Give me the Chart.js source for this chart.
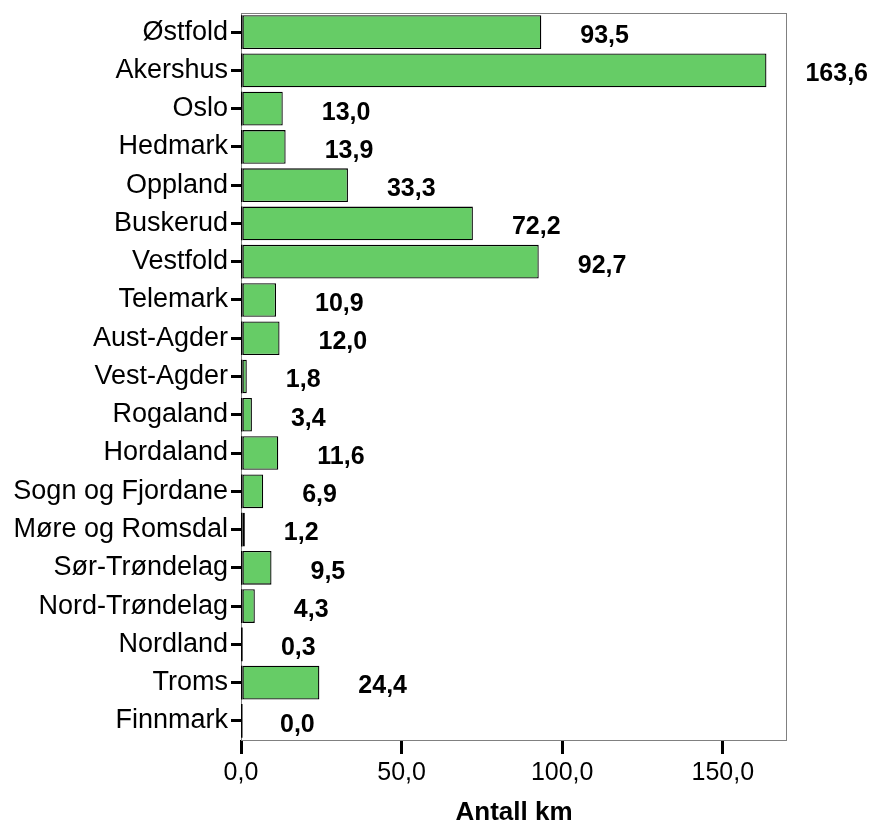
<!DOCTYPE html>
<html>
<head>
<meta charset="utf-8">
<script src="https://cdn.jsdelivr.net/npm/chart.js@4"></script>
<style>
  html, body { margin: 0; padding: 0; background: #fff; }
  #wrap { width: 869px; height: 820px; }
</style>
</head>
<body>
<div id="wrap"><canvas id="chart"></canvas></div>
<script>
var fylker = ["Østfold", "Akershus", "Oslo", "Hedmark", "Oppland", "Buskerud", "Vestfold",
  "Telemark", "Aust-Agder", "Vest-Agder", "Rogaland", "Hordaland", "Sogn og Fjordane",
  "Møre og Romsdal", "Sør-Trøndelag", "Nord-Trøndelag", "Nordland", "Troms", "Finnmark"];
var antallKm = [93.5, 163.6, 13.0, 13.9, 33.3, 72.2, 92.7, 10.9, 12.0, 1.8, 3.4, 11.6, 6.9,
  1.2, 9.5, 4.3, 0.3, 24.4, 0.0];
var xTicks = [0, 50, 100, 150];

var FONT = "'Liberation Sans', Arial, sans-serif";

function komma(v) {
  return v.toFixed(1).replace(".", ",");
}

// frame round the plot, base line of each bar, bold value labels
var extras = {
  id: "extras",
  afterDatasetsDraw: function (chart) {
    var ctx = chart.ctx;
    var a = chart.chartArea;
    var meta = chart.getDatasetMeta(0);
    var xs = chart.scales.x;
    ctx.save();
    ctx.strokeStyle = "#808080";
    ctx.lineWidth = 1;
    ctx.strokeRect(a.left + 0.5, a.top + 0.5, a.right - a.left - 1, a.bottom - a.top);

    ctx.strokeStyle = "#000";
    ctx.lineWidth = 1.5;
    for (var j = 0; j < meta.data.length; j++) {
      var b = meta.data[j];
      ctx.beginPath();
      ctx.moveTo(a.left + 0.75, b.y - b.height / 2);
      ctx.lineTo(a.left + 0.75, b.y + b.height / 2);
      ctx.stroke();
    }

    ctx.fillStyle = "#000";
    ctx.font = "bold 25px " + FONT;
    ctx.textBaseline = "middle";
    ctx.textAlign = "left";
    for (var i = 0; i < antallKm.length; i++) {
      var bar = meta.data[i];
      ctx.fillText(komma(antallKm[i]), xs.getPixelForValue(antallKm[i]) + 39, bar.y + 4);
    }
    ctx.restore();
  }
};

new Chart(document.getElementById("chart"), {
  type: "bar",
  data: {
    labels: fylker,
    datasets: [{
      data: antallKm,
      backgroundColor: "#66cc66",
      borderColor: "#000",
      borderWidth: 1.3,
      borderSkipped: false,
      categoryPercentage: 1,
      barPercentage: 0.88
    }]
  },
  options: {
    indexAxis: "y",
    responsive: true,
    maintainAspectRatio: false,
    animation: false,
    layout: { padding: { top: 13, right: 82, left: 0, bottom: 0 } },
    plugins: { legend: { display: false }, tooltip: { enabled: false } },
    scales: {
      x: {
        min: 0,
        max: 170,
        afterFit: function (s) {
          s.height = 80;
          s.paddingLeft = 0;
          s.paddingRight = 0;
        },
        afterBuildTicks: function (s) {
          s.ticks = xTicks.map(function (v) { return { value: v }; });
        },
        ticks: {
          color: "#000",
          padding: 4,
          font: { size: 25, family: FONT },
          callback: function (v) { return komma(v); }
        },
        grid: { drawOnChartArea: false, tickLength: 14, color: "#000", lineWidth: 3 },
        border: { display: false },
        title: {
          display: true,
          text: "Antall km",
          color: "#000",
          padding: { top: 0, bottom: -6 },
          font: { size: 26, weight: "bold", family: FONT, lineHeight: 1 }
        }
      },
      y: {
        afterFit: function (s) {
          s.width = 241;
          s.paddingTop = 0;
          s.paddingBottom = 0;
        },
        ticks: {
          color: "#000",
          padding: 3,
          font: { size: 27, family: FONT }
        },
        grid: { drawOnChartArea: false, tickLength: 10, color: "#000", lineWidth: 3, offset: false },
        border: { display: false }
      }
    }
  },
  plugins: [extras]
});
</script>
</body>
</html>
